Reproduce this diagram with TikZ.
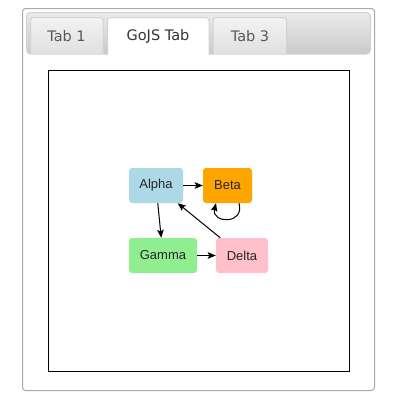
\documentclass[tikz,border=0pt]{standalone}
\usepackage{fontspec}
\setmainfont{Liberation Sans}
\newfontfamily\tabfont{DejaVu Sans}
\usetikzlibrary{arrows.meta,positioning}

\definecolor{lightblue}{HTML}{ADD8E6}
\definecolor{orangeg}{HTML}{FFA500}
\definecolor{lightgreen}{HTML}{90EE90}
\definecolor{pinkg}{HTML}{FFC0CB}
\definecolor{tabline}{HTML}{D3D3D3}
\definecolor{panelline}{HTML}{AAAAAA}

\tikzset{
	gnode/.style={rounded corners=3pt,minimum height=35pt,inner sep=0pt,font=\fontsize{13}{15}\selectfont,text=black!85},
	tabbox/.style={draw=tabline,line width=1pt,rounded corners=3pt,top color=white!95!black,bottom color=white!88!black},
	tablabel/.style={font=\tabfont\fontsize{14.5}{16}\selectfont,text=black!65},
	link/.style={-{Stealth[length=8pt,width=6.5pt,inset=1.5pt]},line width=1pt}
}

\begin{document}
\begin{tikzpicture}[x=1pt,y=-1pt]
				\useasboundingbox (0,0) rectangle (400,400);
				% panel and tab bar
				\draw[panelline,line width=1pt,rounded corners=3pt] (22.5,8.5) rectangle (374.5,390.5);
				\draw[draw=tabline,line width=1pt,rounded corners=4pt,top color=white!92!black,bottom color=white!79!black] (26.5,12.5) rectangle (370.5,54);
				\draw[tabbox] (30.5,54) -- (30.5,17.5) -- (103,17.5) -- (103,54);
				\draw[tabbox] (213,54) -- (213,17.5) -- (286.5,17.5) -- (286.5,54);
				\fill[white] (107.5,54.5) rectangle (209,58);
				\draw[draw=tabline,line width=1pt,fill=white,rounded corners=3pt] (107.5,55) -- (107.5,17.5) -- (209,17.5) -- (209,55);
				\node[tablabel] (t1) at (66.5,36) {Tab 1};
				\node[tablabel,text=black!80] (t2) at (158,36) {GoJS Tab};
				\node[tablabel] (t3) at (250,36) {Tab 3};
				% diagram
				\draw[line width=1pt] (48.5,70.5) rectangle (349,371);
				\draw (156,185.5) node[gnode,fill=lightblue,minimum width=54pt] (A) {Alpha};
				\draw (227.5,185.5) node[gnode,fill=orangeg,minimum width=49pt] (B) {Beta};
				\draw (163,255.5) node[gnode,fill=lightgreen,minimum width=68pt] (G) {Gamma};
				\draw (242,255.5) node[gnode,fill=pinkg,minimum width=52pt] (D) {Delta};
				
				\draw[link] (A) -- (B);
				\draw[link] (A) -- (G);
				\draw[link] (G) -- (D);
				\draw[link] (D) -- (A);
				\draw[link] ([xshift=11.5pt]B.south) .. controls +(6,22) and +(-5,20) .. ([xshift=-11.5pt]B.south);
			\end{tikzpicture}
\end{document}
